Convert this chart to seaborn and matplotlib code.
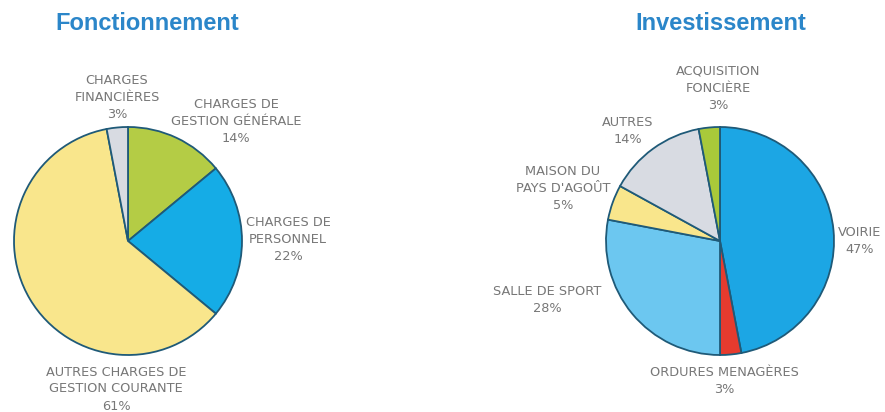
import matplotlib
matplotlib.use('Agg')
import matplotlib.pyplot as plt
import seaborn as sns

# data
fonc_labels = ['CHARGES DE\nGESTION GÉNÉRALE', 'CHARGES DE\nPERSONNEL',
               'AUTRES CHARGES DE\nGESTION COURANTE', 'CHARGES\nFINANCIÈRES']
fonc_values = [14, 22, 61, 3]
fonc_colors = ['#b4cc45', '#15ace6', '#f9e68c', '#d8dbe2']

inv_labels = ['VOIRIE', 'ORDURES MENAGÈRES', 'SALLE DE SPORT',
              "MAISON DU\nPAYS D'AGOÛT", 'AUTRES', 'ACQUISITION\nFONCIÈRE']
inv_values = [47, 3, 28, 5, 14, 3]
inv_colors = ['#1ca6e4', '#e63b2e', '#6cc7f0', '#f9e68c', '#d8dbe2', '#a9c93a']

sns.set_theme(style='white')

W, H = 885, 412
fig = plt.figure(figsize=(W / 100, H / 100), dpi=100)
ax = fig.add_axes([0, 0, 1, 1])

edge = dict(edgecolor='#1f5a78', linewidth=1.3)
ax.pie(fonc_values, colors=fonc_colors, startangle=90, counterclock=False,
       center=(128, H - 241), radius=114, wedgeprops=edge)
ax.pie(inv_values, colors=inv_colors, startangle=90, counterclock=False,
       center=(720, H - 241), radius=114, wedgeprops=edge)

# label placement (image pixel coords, y down)
fonc_pos = [(236, 121), (288, 239), (116, 389), (117, 97)]
inv_pos = [(860, 241), (724, 381), (547, 300), (563, 188), (628, 131), (718, 88)]

txt = dict(ha='center', va='center', fontsize=9.3, color='#777777', linespacing=1.4)
for lab, v, (x, y) in zip(fonc_labels, fonc_values, fonc_pos):
    ax.text(x, H - y, f'{lab}\n{v}%', **txt)
for lab, v, (x, y) in zip(inv_labels, inv_values, inv_pos):
    ax.text(x, H - y, f'{lab}\n{v}%', **txt)

title_font = ['Liberation Sans Narrow', 'Liberation Sans', 'DejaVu Sans']
ax.text(147, H - 23, 'Fonctionnement', ha='center', va='center', fontsize=17,
        fontweight='bold', color='#2b86c9', family=title_font)
ax.text(721, H - 23, 'Investissement', ha='center', va='center', fontsize=17,
        fontweight='bold', color='#2b86c9', family=title_font)

ax.set_xlim(0, W)
ax.set_ylim(0, H)
ax.set_aspect('equal')
ax.axis('off')

fig.savefig('out.png', dpi=100, facecolor='white')
